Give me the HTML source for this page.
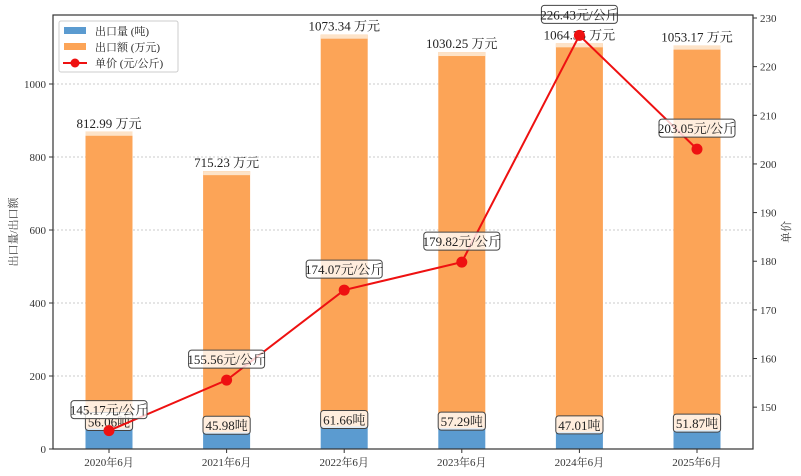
<!DOCTYPE html>
<html><head><meta charset="utf-8"><style>
body{margin:0;background:#fff}
svg{display:block;font-family:"Liberation Serif","Noto Serif CJK SC","Noto Sans CJK SC",serif}
</style></head><body>
<svg id="c" width="801" height="476" viewBox="0 0 801 476"></svg>
<script>
const categories=["2020年6月","2021年6月","2022年6月","2023年6月","2024年6月","2025年6月"];
const volume=[56.06,45.98,61.66,57.29,47.01,51.87];
const amount=[812.99,715.23,1073.34,1030.25,1064.35,1053.17];
const price=[145.17,155.56,174.07,179.82,226.43,203.05];
const leftTicks=[0,200,400,600,800,1000];
const rightTicks=[150,160,170,180,190,200,210,220,230];
const L=53,R=753,T=15,B=449;
const yL=v=>B-(v/1189)*(B-T);
const yR=v=>B-(v-141.4)/(230-141.4)*(B-18);
const xC=i=>109+i*117.6;
const bw=47;
const svg=document.getElementById('c');
const NS='http://www.w3.org/2000/svg';
function mk(t,a,p){const e=document.createElementNS(NS,t);for(const k in a)e.setAttribute(k,a[k]);(p||svg).appendChild(e);return e;}
// grid & left ticks
leftTicks.forEach(v=>{const y=yL(v);
 if(v>0){const g=mk('line',{x1:L,x2:R,y1:y,y2:y,stroke:'#bbb','stroke-dasharray':'2,2','stroke-width':0.8});
 
 }
 mk('line',{x1:L-4,x2:L,y1:y,y2:y,stroke:'#333'});
 const t=mk('text',{x:L-7,y:y+4,'text-anchor':'end','font-size':11,fill:'#333'});t.textContent=v;
 
 });
rightTicks.forEach(v=>{const y=yR(v);
 mk('line',{x1:R,x2:R+4,y1:y,y2:y,stroke:'#333'});
 const t=mk('text',{x:R+7,y:y+4,'font-size':11,fill:'#333'});t.textContent=v;
 
 });
// bars
categories.forEach((c,i)=>{const x=xC(i)-bw/2;
 const b1=mk('rect',{x:x,y:yL(volume[i]),width:bw,height:B-yL(volume[i]),fill:'#5b9bd0'});
 
 
 const top=yL(volume[i]+amount[i]);
 const b2=mk('rect',{x:x,y:top,width:bw,height:yL(volume[i])-top,fill:'#fca457'});
 
 
 mk('rect',{x:x,y:top,width:bw,height:4,fill:'#fde3c8'});
 const t=mk('text',{x:xC(i),y:top-4,'text-anchor':'middle','font-size':13,fill:'#222'});t.textContent=amount[i].toFixed(2)+' 万元';
 
 
 mk('line',{x1:xC(i),x2:xC(i),y1:B,y2:B+4,stroke:'#333'});
 const xl=mk('text',{x:xC(i),y:B+17,'text-anchor':'middle','font-size':11,fill:'#333'});xl.textContent=c;
 
 
});
function box(cx,cy,txt,name){const w=txt.length*7.2+4;
 const r=mk('rect',{x:cx-w/2,y:cy-10,width:w,height:18,rx:3,fill:'#fff','fill-opacity':0.8,stroke:'#444'});
 
 
 const t=mk('text',{x:cx,y:cy+4,'text-anchor':'middle','font-size':13,fill:'#222'});t.textContent=txt;
 
 }
categories.forEach((c,i)=>box(xC(i),yL(volume[i])-6,volume[i].toFixed(2)+'吨','volume-label'));
// line
const pts=price.map((v,i)=>xC(i)+','+yR(v)).join(' ');
const pl=mk('polyline',{points:pts,fill:'none',stroke:'#ee1111','stroke-width':2});


price.forEach((v,i)=>{const d=mk('circle',{cx:xC(i),cy:yR(v),r:5.5,fill:'#ee1111'});
 
 });
price.forEach((v,i)=>box(xC(i),yR(v)-20,v.toFixed(2)+'元/公斤','price-label'));
// frame
const f=mk('rect',{x:L,y:T,width:R-L,height:B-T,fill:'none',stroke:'#333','stroke-width':1.2});


const ya=mk('text',{x:0,y:0,'font-size':11,fill:'#333','text-anchor':'middle',transform:'translate(17,232) rotate(-90)'});ya.textContent='出口量/出口额';


const yb=mk('text',{x:0,y:0,'font-size':11,fill:'#333','text-anchor':'middle',transform:'translate(790,232) rotate(-90)'});yb.textContent='单价';


// legend
const lg=mk('g',{});


mk('rect',{x:59,y:21,width:119,height:51,rx:2,fill:'#fff','fill-opacity':0.85,stroke:'#ccc'},lg);
mk('rect',{x:64,y:27,width:22,height:7,fill:'#5b9bd0'},lg);
mk('rect',{x:64,y:43,width:22,height:7,fill:'#fca457'},lg);
mk('line',{x1:63,x2:87,y1:63,y2:63,stroke:'#ee1111','stroke-width':2},lg);
mk('circle',{cx:75,cy:63,r:4.5,fill:'#ee1111'},lg);
[['出口量 (吨)',35],['出口额 (万元)',51],['单价 (元/公斤)',67]].forEach(([s,y])=>{const t=mk('text',{x:95,y:y,'font-size':11,fill:'#222'},lg);t.textContent=s;
 
 });
</script>
</body></html>
